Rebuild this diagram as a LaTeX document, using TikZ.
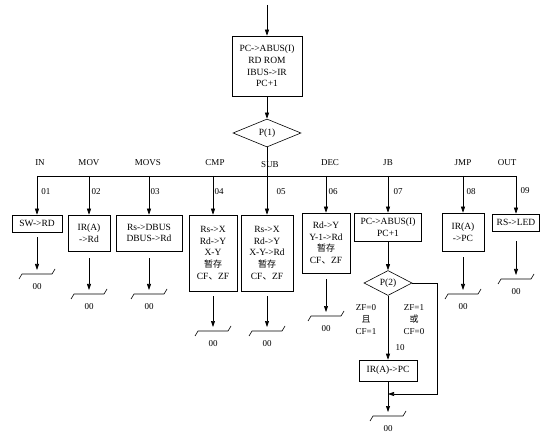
\documentclass[tikz,border=0pt]{standalone}
\usepackage{fontspec}
\setmainfont{Liberation Serif}
\newfontfamily\cjk{Noto Sans CJK SC}
\usetikzlibrary{positioning,arrows.meta,shapes.geometric}

\begin{document}
\begin{tikzpicture}[x=1pt, y=-1pt,
  box/.style={draw=black, line width=0.6pt, align=center, inner sep=1pt, font=\fontsize{9.5}{11.7}\selectfont},
  cond/.style={draw=black, line width=0.6pt, diamond, inner sep=0pt, font=\fontsize{9.5}{11.7}\selectfont},
  lbl/.style={inner sep=0pt, align=center, font=\fontsize{9}{12}\selectfont},
  wire/.style={line width=0.6pt},
  flow/.style={line width=0.6pt, -{Triangle[length=6pt,width=4pt]}},
  gap/.style={flow, shorten <=#1}]
\useasboundingbox (0,0) rectangle (555,441);

% fetch and decode
\coordinate (start) at (267,5);
\node[box, minimum width=70pt, minimum height=60pt] (fetch) at (267,66) {PC->ABUS(I)\\RD ROM\\IBUS->IR\\PC+1};
\node[cond, minimum width=68pt, minimum height=28pt] (p1) at (267,133) {P(1)};
\coordinate (bus) at (0,176);

% instruction boxes
\node[box, minimum width=50pt, minimum height=17pt] (sw)   at (37,223.5) {SW->RD};
\node[box, minimum width=42pt, minimum height=36pt] (ira)  at (89,233)   {IR(A)\\->Rd};
\node[box, minimum width=66pt, minimum height=36pt] (dbus) at (149,233)  {Rs->DBUS\\DBUS->Rd};
\node[box, minimum width=48pt, minimum height=76pt] (cmpb) at (213,253)  {Rs->X\\Rd->Y\\X-Y\\{\cjk\fontsize{9}{11.7}\selectfont 暂存}\\CF{\cjk 、}ZF};
\node[box, minimum width=52pt, minimum height=76pt] (subb) at (267,253)  {Rs->X\\Rd->Y\\X-Y->Rd\\{\cjk\fontsize{9}{11.7}\selectfont 暂存}\\CF{\cjk 、}ZF};
\node[box, minimum width=48pt, minimum height=60pt] (decb) at (326,243)  {Rd->Y\\Y-1->Rd\\{\cjk\fontsize{9}{11.7}\selectfont 暂存}\\CF{\cjk 、}ZF};
\node[box, minimum width=67pt, minimum height=28pt] (jbb)  at (388,227)  {PC->ABUS(I)\\PC+1};
\node[box, minimum width=42pt, minimum height=38pt] (jmpb) at (463,232)  {IR(A)\\->PC};
\node[box, minimum width=47pt, minimum height=17pt] (outb) at (516,222.5) {RS->LED};

% jump branch
\node[cond, minimum width=48pt, minimum height=20pt] (p2) at (388,283) {P(2)};
\node[box, minimum width=58pt, minimum height=21pt] (irpc) at (388,370.5) {IR(A)->PC};
\coordinate (join) at (388,394);

% opcode names and numbers
\node[lbl] (nin)   at (40,163)  {IN};
\node[lbl] (nmov)  at (89,163)  {MOV};
\node[lbl] (nmovs) at (148,163) {MOVS};
\node[lbl] (ncmp)  at (215,163) {CMP};
\node[lbl] (nsub)  at (270,165) {SUB};
\node[lbl] (ndec)  at (330,163) {DEC};
\node[lbl] (njb)   at (388,163) {JB};
\node[lbl] (njmp)  at (463,163) {JMP};
\node[lbl] (nout)  at (507,163) {OUT};
\node[lbl] (c1) at (46,192)  {01};
\node[lbl] (c2) at (96,192)  {02};
\node[lbl] (c3) at (155,192) {03};
\node[lbl] (c4) at (219,192) {04};
\node[lbl] (c5) at (281,192) {05};
\node[lbl] (c6) at (333,192) {06};
\node[lbl] (c7) at (398,192) {07};
\node[lbl] (c8) at (471,192) {08};
\node[lbl] (c9) at (525,191) {09};
\node[lbl] (c10) at (400,348) {10};
\node[lbl] (yes) at (366,320) {ZF=0\\{\cjk 且}\\CF=1};
\node[lbl] (no)  at (414,320) {ZF=1\\{\cjk 或}\\CF=0};

% ends
\coordinate (e1) at (37,270);
\coordinate (e2) at (89,290);
\coordinate (e3) at (149,290);
\coordinate (e4) at (213,327);
\coordinate (e5) at (267,327);
\coordinate (e6) at (326,312);
\coordinate (e7) at (388,412);
\coordinate (e8) at (463,290);
\coordinate (e9) at (516,275);
\foreach \e in {e1,e2,e3,e4,e5,e6,e7,e8,e9} {
  \draw[wire] (\e) ++(-18,9) -- ++(3,-5) -- ++(30,0) -- ++(3,-5);
  \node[lbl] at ([yshift=-17pt]\e) {00};
}

% connectors
\draw[flow] (start) -- (fetch);
\draw[flow] (fetch) -- (p1);
\draw[flow] (p1) -- (subb);
\draw[wire] (sw.north |- bus) -- (outb.north |- bus);
\draw[flow] (sw.north |- bus) -- (sw);
\draw[flow] (ira.north |- bus) -- (ira);
\draw[flow] (dbus.north |- bus) -- (dbus);
\draw[flow] (cmpb.north |- bus) -- (cmpb);
\draw[flow] (decb.north |- bus) -- (decb);
\draw[flow] (jbb.north |- bus) -- (jbb);
\draw[flow] (jmpb.north |- bus) -- (jmpb);
\draw[flow] (outb.north |- bus) -- (outb);
\draw[gap=5pt] (sw) -- (e1);
\draw[gap=7pt] (ira) -- (e2);
\draw[gap=7pt] (dbus) -- (e3);
\draw[gap=5pt] (cmpb) -- (e4);
\draw[gap=5pt] (subb) -- (e5);
\draw[gap=6pt] (decb) -- (e6);
\draw[gap=6pt] (jmpb) -- (e8);
\draw[gap=10pt] (outb) -- (e9);
\draw[flow] (jbb) -- (p2);
\draw[flow] (p2) -- (irpc);
\draw[flow] (p2.east) -- ++(25,0) |- (join);
\draw[flow] (irpc) -- (e7);
\end{tikzpicture}
\end{document}
